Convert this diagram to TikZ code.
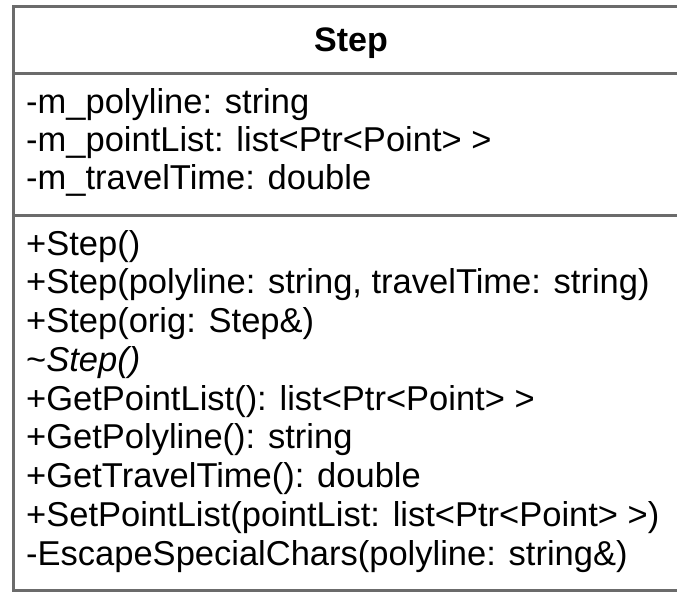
\documentclass[tikz,border=0pt]{standalone}
\usepackage{fontspec}
\setmainfont{Liberation Sans}
\usepackage{tikz}
\usetikzlibrary{positioning}

\begin{document}
\begin{tikzpicture}[x=1pt,y=-1pt,
  frame/.style={draw=black!58,line width=3pt},
  title/.style={font=\fontsize{34}{38}\selectfont\bfseries,inner sep=0pt,anchor=base},
  member/.style={font=\fontsize{34.5}{38}\selectfont,inner sep=0pt,anchor=base west},
]
\useasboundingbox (0,0) rectangle (677,592);
% class box
\draw[frame] (700,6.5) -- (13.5,6.5) -- (13.5,590.5) -- (700,590.5);
\draw[frame] (13.5,73) -- (700,73);
\draw[frame] (13.5,215) -- (700,215);
% name
\node[title] (name) at (351,51) {Step};
% attributes
\node[member] (a1) at (26,113) {-m\_polyline: string};
\node[member] (a2) at (26,151) {-m\_pointList: list<Ptr<Point> >};
\node[member] (a3) at (26,189) {-m\_travelTime: double};
% operations
\node[member] (o1) at (26,255) {+Step()};
\node[member] (o2) at (26,293.75) {+Step(polyline: string, travelTime: string)};
\node[member] (o3) at (26,332.5) {+Step(orig: Step\&)};
\node[member] (o4) at (26,371.25) {\textasciitilde\textit{Step()}};
\node[member] (o5) at (26,410) {+GetPointList(): list<Ptr<Point> >};
\node[member] (o6) at (26,448.75) {+GetPolyline(): string};
\node[member] (o7) at (26,487.5) {+GetTravelTime(): double};
\node[member] (o8) at (26,526.25) {+SetPointList(pointList: list<Ptr<Point> >)};
\node[member] (o9) at (26,565) {-EscapeSpecialChars(polyline: string\&)};
\end{tikzpicture}
\end{document}
